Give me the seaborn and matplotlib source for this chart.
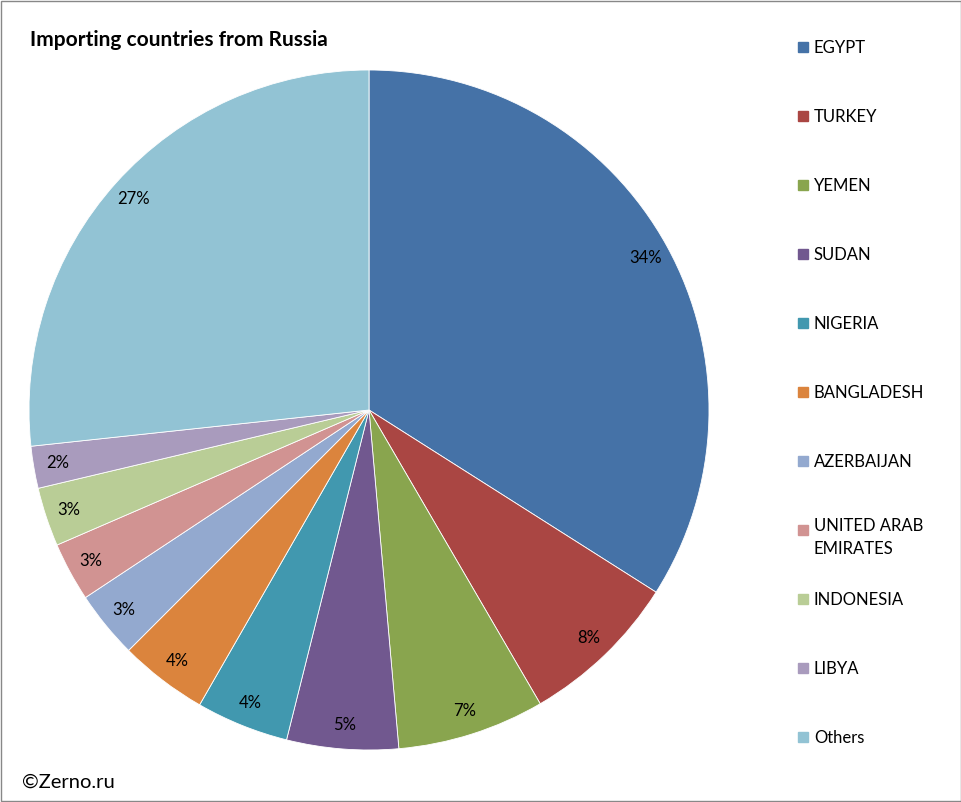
import matplotlib.pyplot as plt
import matplotlib.patches as mpatches
import seaborn as sns

# === Data ===
countries = ['EGYPT', 'TURKEY', 'YEMEN', 'SUDAN', 'NIGERIA', 'BANGLADESH',
             'AZERBAIJAN', 'UNITED ARAB\nEMIRATES', 'INDONESIA', 'LIBYA', 'Others']
shares = [34.0, 7.6, 7.0, 5.3, 4.4, 4.2, 3.2, 2.8, 2.8, 2.0, 26.7]
colors = ['#4572A7', '#AA4643', '#89A54E', '#71588F', '#4198AF', '#DB843D',
          '#93A9CF', '#D19392', '#B9CD96', '#A99BBD', '#92C3D4']

sns.set_theme(style='white', font='Lato', rc={'text.color': 'black'})
sns.set_palette(colors)

fig = plt.figure(figsize=(9.62, 8.02), dpi=100)
ax = fig.add_axes([29 / 962, 52 / 802, 680 / 962, 680 / 802])

ax.pie(shares, colors=sns.color_palette(), startangle=90, counterclock=False,
       autopct='%1.0f%%', pctdistance=0.93, radius=1,
       wedgeprops=dict(edgecolor='white', linewidth=0.6),
       textprops=dict(fontsize=12, color='black'))
ax.set_xlim(-1, 1)
ax.set_ylim(-1, 1)
ax.set_aspect('equal')
ax.axis('off')

# === Title / credits ===
fig.text(30 / 962, 1 - 40 / 802, 'Importing countries from Russia',
         fontsize=15, fontweight='bold', va='center')
fig.text(22 / 962, 1 - 782 / 802, '©Zerno.ru', fontsize=14.5, va='center')

# === Legend ===
for i, (name, c) in enumerate(zip(countries, colors)):
    y = 47 + i * 69
    fig.patches.append(mpatches.Rectangle((798 / 962, 1 - (y + 5) / 802), 10 / 962, 10 / 802,
                                          color=c, transform=fig.transFigure, figure=fig))
    fig.text(814 / 962, 1 - (y + 1) / 802 if '\n' not in name else 1 - (y - 12) / 802,
             name, fontsize=12, va='center' if '\n' not in name else 'top',
             linespacing=1.5)

# border
fig.patches.append(mpatches.Rectangle((0.001, 0.001), 0.998, 0.998, fill=False,
                                      edgecolor='#888888', linewidth=1,
                                      transform=fig.transFigure, figure=fig))

fig.savefig('out.png', dpi=100, facecolor='white')
